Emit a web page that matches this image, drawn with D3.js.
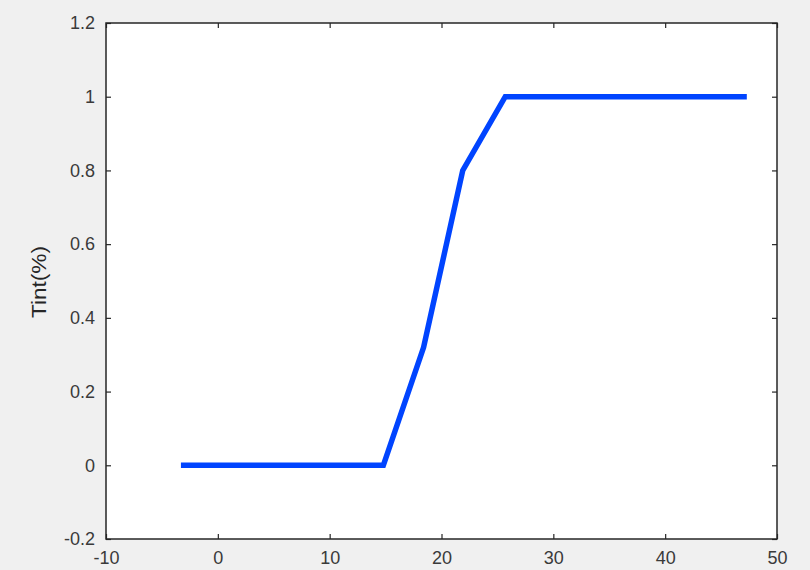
<!DOCTYPE html>
<html>
<head>
<meta charset="utf-8">
<script src="https://cdn.jsdelivr.net/npm/d3@7"></script>
<style>
  html, body { margin: 0; padding: 0; background: #f0f0f0; }
  svg { display: block; font-family: "Liberation Sans", Arial, sans-serif; }
</style>
</head>
<body>
<svg id="chart" width="810" height="570"></svg>
<script>
"use strict"

// Data
const tempValues = [-3.3, 14.8, 18.4, 21.9, 25.7, 47.3]
const tintValues = [0, 0, 0.32, 0.8, 1, 1]
const xTicks = [-10, 0, 10, 20, 30, 40, 50]
const yTicks = [-0.2, 0, 0.2, 0.4, 0.6, 0.8, 1, 1.2]

const margins = { top: 23, right: 33, bottom: 31, left: 106 }
const fullwidth = 810
const fullheight = 570
const width = fullwidth - margins.left - margins.right
const height = fullheight - margins.top - margins.bottom
const axisColor = "#262626"

const svg = d3.select("#chart")
const g = svg.append("g").attr("transform", `translate(${margins.left},${margins.top})`)

const xScale = d3.scaleLinear().domain([-10, 50]).range([0, width])
const yScale = d3.scaleLinear().domain([-0.2, 1.2]).range([height, 0])

// Plot background
g.append("rect")
    .attr("width", width)
    .attr("height", height)
    .attr("fill", "#ffffff")

// Axes, matlab style: ticks inward, box all round
function styleAxis(sel){
    sel.select(".domain").remove()
    sel.selectAll(".tick line").attr("stroke", axisColor).attr("stroke-width", 1.2)
    sel.selectAll(".tick text")
        .attr("fill", "#3a3a3a")
        .style("font-size", "18px")
}

// plain hyphen minus like the original
const fmt = d => String(+d.toFixed(1))

g.append("g")
    .attr("transform", `translate(0,${height})`)
    .call(d3.axisBottom(xScale).tickValues(xTicks).tickSizeInner(-5).tickSizeOuter(0).tickPadding(12).tickFormat(fmt))
    .call(styleAxis)

g.append("g")
    .call(d3.axisTop(xScale).tickValues(xTicks).tickSizeInner(-5).tickSizeOuter(0).tickFormat(""))
    .call(styleAxis)

g.append("g")
    .call(d3.axisLeft(yScale).tickValues(yTicks).tickSizeInner(-5).tickSizeOuter(0).tickPadding(11).tickFormat(fmt))
    .call(styleAxis)

g.append("g")
    .attr("transform", `translate(${width},0)`)
    .call(d3.axisRight(yScale).tickValues(yTicks).tickSizeInner(-5).tickSizeOuter(0).tickFormat(""))
    .call(styleAxis)

// Line
const line = d3.line()
    .x((d, i) => xScale(tempValues[i]))
    .y(d => yScale(d))

g.append("path")
    .datum(tintValues)
    .attr("d", line)
    .attr("fill", "none")
    .attr("stroke", "#0044ff")
    .attr("stroke-width", 5.5)
    .attr("stroke-linejoin", "miter")

// Box
g.append("rect")
    .attr("width", width)
    .attr("height", height)
    .attr("fill", "none")
    .attr("stroke", axisColor)
    .attr("stroke-width", 1.5)

// Y label
svg.append("text")
    .attr("transform", `translate(46,${margins.top + height / 2 + 1}) rotate(-90)`)
    .attr("text-anchor", "middle")
    .attr("fill", "#262626")
    .attr("textLength", 72)
    .attr("lengthAdjust", "spacingAndGlyphs")
    .style("font-size", "20px")
    .text("Tint(%)")
</script>
</body>
</html>
